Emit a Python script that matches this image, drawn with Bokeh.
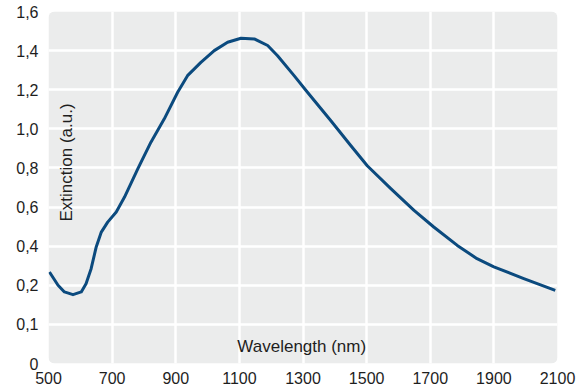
import numpy as np
from bokeh.plotting import figure
from bokeh.models import FixedTicker, BoxAnnotation, Label, Range1d
from bokeh.embed import file_html
from bokeh.resources import INLINE

# ---- data ----
wavelength = [503, 530, 550, 577, 603, 618, 634, 650, 666, 686, 713, 739, 781, 822,
              864, 906, 937, 979, 1021, 1063, 1105, 1147, 1189, 1220, 1272, 1314,
              1387, 1450, 1502, 1576, 1649, 1711, 1785, 1847, 1900, 1994, 2093]
extinction = [0.268, 0.200, 0.183, 0.176, 0.183, 0.208, 0.285, 0.396, 0.472, 0.523,
              0.575, 0.651, 0.796, 0.932, 1.051, 1.187, 1.272, 1.340, 1.400, 1.443,
              1.463, 1.460, 1.426, 1.374, 1.272, 1.187, 1.043, 0.915, 0.811, 0.694,
              0.583, 0.498, 0.404, 0.336, 0.294, 0.234, 0.187]

x_tick_values = [500, 700, 900, 1100, 1300, 1500, 1700, 1900, 2100]
x_tick_labels = ["500", "700", "900", "1100", "1300", "1500", "1700", "1900", "2100"]
y_tick_values = [0, 0.1, 0.2, 0.4, 0.6, 0.8, 1.0, 1.2, 1.4, 1.6]
y_tick_labels = ["0", "0,1", "0,2", "0,4", "0,6", "0,8", "1,0", "1,2", "1,4", "1,6"]

x_title = "Wavelength (nm)"
y_title = "Extinction (a.u.)"

# the value axis is broken: ticks are evenly spaced, map values onto tick index
y_index = list(range(len(y_tick_values)))
y_disp = np.interp(extinction, y_tick_values, y_index)

FONT = "Liberation Sans"
TXT = "#1e1e1e"
LINE = "#0b4a7e"
BG = "#ebecec"

p = figure(width=580, height=390, output_backend="svg", toolbar_location=None,
           x_range=Range1d(x_tick_values[0], x_tick_values[-1]),
           y_range=Range1d(y_index[0], y_index[-1]),
           min_border_left=48, min_border_right=23, min_border_top=11,
           min_border_bottom=27)
p.outline_line_color = None
p.background_fill_color = "white"
p.border_fill_color = "white"

# rounded grey plot area
p.add_layout(BoxAnnotation(fill_color=BG, fill_alpha=1.0, line_color=None,
                           border_radius=6, level="image"))

# axes
p.xaxis.ticker = FixedTicker(ticks=x_tick_values)
p.xaxis.major_label_overrides = {v: l for v, l in zip(x_tick_values, x_tick_labels)}
p.yaxis.ticker = FixedTicker(ticks=y_index)
p.yaxis.major_label_overrides = {i: l for i, l in zip(y_index, y_tick_labels)}
for ax in (p.xaxis[0], p.yaxis[0]):
    ax.axis_line_color = None
    ax.major_tick_line_color = None
    ax.minor_tick_line_color = None
    ax.major_tick_out = 0
    ax.major_tick_in = 0
    ax.major_label_text_font = FONT
    ax.major_label_text_font_size = "16px"
    ax.major_label_text_color = TXT
p.xaxis.major_label_standoff = 8
p.yaxis.major_label_standoff = 10

# white grid only at interior ticks
p.xgrid.ticker = FixedTicker(ticks=x_tick_values[1:-1])
p.ygrid.ticker = FixedTicker(ticks=y_index[1:-1])
p.grid.grid_line_color = "white"
p.grid.grid_line_width = 2.5
p.grid.level = "underlay"

# curve
p.line(wavelength, y_disp, line_color=LINE, line_width=3, line_join="round")

# axis titles inside the plot area
p.add_layout(Label(x=1296, y=0.43, text=x_title, text_align="center",
                   text_baseline="middle", text_font=FONT, text_font_size="17px",
                   text_color=TXT))
p.add_layout(Label(x=557, y=5.14, text=y_title, text_align="center",
                   text_baseline="middle", angle=np.pi / 2, text_font=FONT,
                   text_font_size="17px", text_color=TXT))

open("out.html", "w").write(file_html(p, INLINE))
